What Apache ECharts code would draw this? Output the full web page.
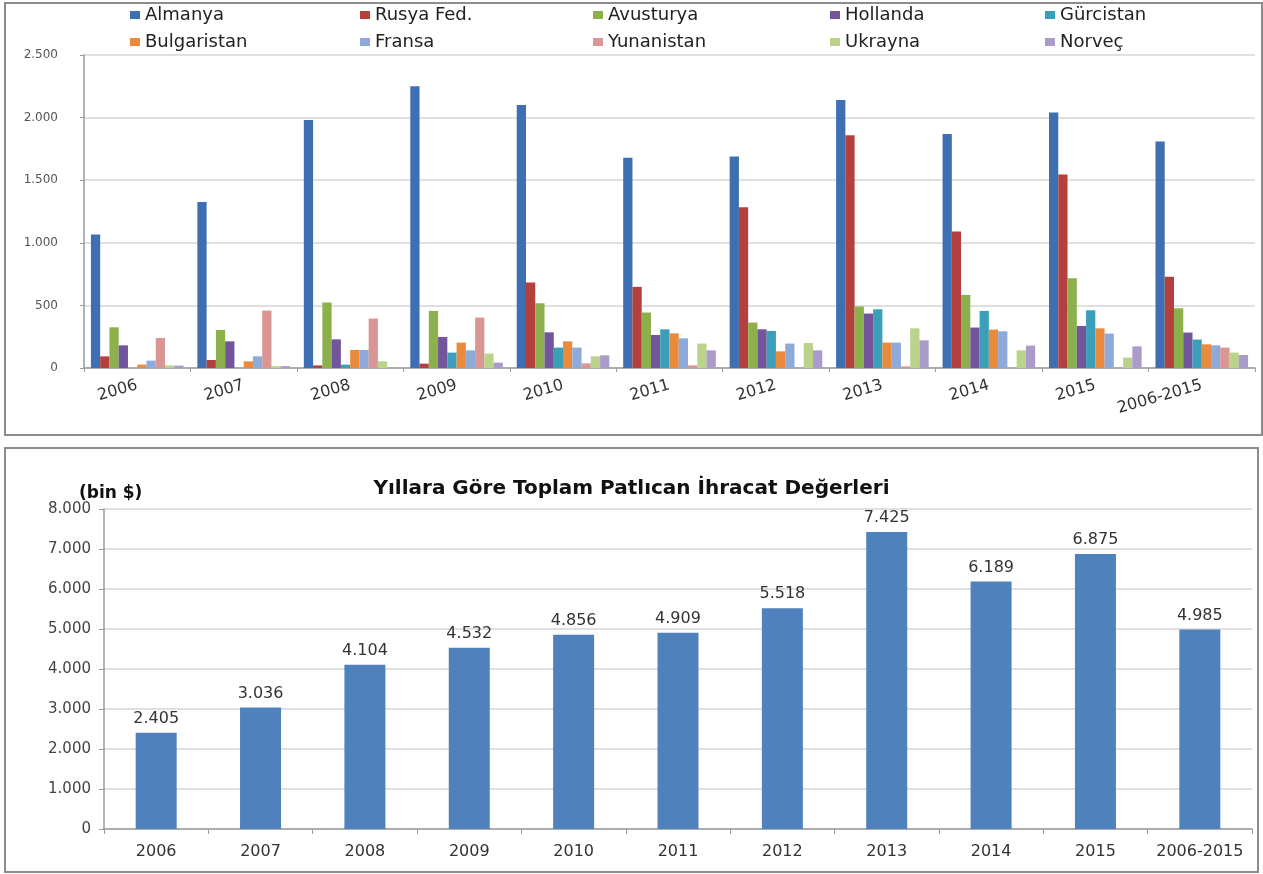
<!DOCTYPE html>
<html>
<head>
<meta charset="utf-8">
<script src="https://cdn.jsdelivr.net/npm/echarts@6/dist/echarts.min.js"></script>
<style>
  body { margin: 0; background: #fff; }
  .panel { position: absolute; border: 2px solid #8c8c8c; box-sizing: border-box; background: #fff; }
  #top { left: 4px; top: 2px; width: 1259px; height: 434px; }
  #bottom { left: 4px; top: 447px; width: 1255px; height: 426px; }
</style>
</head>
<body>
<div id="top" class="panel"></div>
<div id="bottom" class="panel"></div>
<script>
// kategoriler
const years = ['2006', '2007', '2008', '2009', '2010', '2011', '2012', '2013', '2014', '2015', '2006-2015']

// ülkelere göre ihracat (bin $)
const almanya     = [1067, 1325, 1980, 2250, 2100, 1680, 1690, 2140, 1870, 2040, 1810]
const rusya       = [93, 64, 21, 35, 683, 648, 1283, 1860, 1091, 1545, 728]
const avusturya   = [325, 304, 523, 456, 517, 443, 363, 491, 584, 717, 477]
const hollanda    = [181, 213, 229, 248, 285, 264, 309, 435, 323, 336, 283]
const gurcistan   = [0, 0, 27, 123, 163, 309, 296, 469, 456, 461, 227]
const bulgaristan = [27, 53, 144, 203, 213, 277, 133, 203, 307, 317, 189]
const fransa      = [59, 93, 144, 141, 163, 237, 195, 203, 293, 275, 181]
const yunanistan  = [240, 459, 395, 403, 37, 21, 0, 13, 0, 0, 163]
const ukrayna     = [21, 15, 53, 115, 93, 195, 200, 317, 141, 83, 123]
const norvec      = [19, 15, 0, 43, 101, 141, 141, 221, 179, 173, 104]

// toplam ihracat değerleri (bin $)
const totals = [2405, 3036, 4104, 4532, 4856, 4909, 5518, 7425, 6189, 6875, 4985]

const countries = [
  ['Almanya', almanya, '#3f6fb3'],
  ['Rusya Fed.', rusya, '#b3403d'],
  ['Avusturya', avusturya, '#8bb04c'],
  ['Hollanda', hollanda, '#72559d'],
  ['Gürcistan', gurcistan, '#3c9fba'],
  ['Bulgaristan', bulgaristan, '#ea8a3c'],
  ['Fransa', fransa, '#8eaadb'],
  ['Yunanistan', yunanistan, '#d99694'],
  ['Ukrayna', ukrayna, '#b9d38b'],
  ['Norveç', norvec, '#ab9bcb'],
]

// 2500 -> "2.500"
const fmt = (v) => String(v).replace(/\B(?=(\d{3})+(?!\d))/g, '.')

const gridLine = { lineStyle: { color: '#d6d6d6', width: 1.5 } }
const axisLine = { lineStyle: { color: '#9a9a9a', width: 1.5 } }
const font = 'DejaVu Sans, Verdana, sans-serif'

// lejant: 2 satır x 5 sütun
const legendCols = [124, 354, 587, 824, 1039]
const legendRows = [2, 29]
const legends = countries.map((c, i) => ({
  data: [c[0]],
  left: legendCols[i % 5],
  top: legendRows[Math.floor(i / 5)],
  padding: 0,
  itemWidth: 10,
  itemHeight: 8,
  itemGap: 5,
  icon: 'rect',
  textStyle: { fontFamily: font, fontSize: 18, color: '#222' },
}))

var topChart = echarts.init(document.getElementById('top'))
topChart.setOption({
  animation: false,
  textStyle: { fontFamily: font },
  legend: legends,
  grid: { left: 78, right: 6, top: 51, bottom: 66 },
  xAxis: {
    type: 'category',
    data: years,
    axisLine: axisLine,
    axisTick: { show: true, length: 4, lineStyle: { color: '#9a9a9a' } },
    axisLabel: { rotate: 16, fontSize: 16, color: '#333', margin: 17, interval: 0 },
  },
  yAxis: {
    type: 'value',
    min: 0,
    max: 2500,
    interval: 500,
    axisLine: { show: true, lineStyle: { color: '#9a9a9a', width: 1.5 } },
    axisTick: { show: true, length: 4, lineStyle: { color: '#9a9a9a' } },
    splitLine: gridLine,
    axisLabel: { fontSize: 12, color: '#555', margin: 26, formatter: fmt },
  },
  series: countries.map((c) => ({
    name: c[0],
    type: 'bar',
    data: c[1],
    barGap: '0%',
    barCategoryGap: '13%',
    itemStyle: { color: c[2] },
  })),
})

var bottomChart = echarts.init(document.getElementById('bottom'))
bottomChart.setOption({
  animation: false,
  textStyle: { fontFamily: font },
  title: [
    {
      text: 'Yıllara Göre Toplam Patlıcan İhracat Değerleri',
      left: 'center',
      top: 25,
      textStyle: { fontFamily: font, fontSize: 20, fontWeight: 'bold', color: '#111' },
    },
    {
      text: '(bin $)',
      left: 68,
      top: 31,
      textStyle: { fontFamily: font, fontSize: 17, fontWeight: 'bold', color: '#111' },
    },
  ],
  grid: { left: 98, right: 5, top: 60, bottom: 42 },
  xAxis: {
    type: 'category',
    data: years,
    axisLine: axisLine,
    axisTick: { show: true, length: 5, lineStyle: { color: '#9a9a9a' } },
    axisLabel: { fontSize: 16, color: '#333', margin: 15, interval: 0 },
  },
  yAxis: {
    type: 'value',
    min: 0,
    max: 8000,
    interval: 1000,
    axisLine: { show: true, lineStyle: { color: '#9a9a9a', width: 1.5 } },
    axisTick: { show: true, length: 5, lineStyle: { color: '#9a9a9a' } },
    splitLine: gridLine,
    axisLabel: { fontSize: 15, color: '#444', margin: 13, formatter: fmt },
  },
  series: [
    {
      type: 'bar',
      data: totals,
      barWidth: 41,
      itemStyle: { color: '#4f81bd' },
      label: {
        show: true,
        position: 'top',
        distance: 6,
        fontSize: 16,
        color: '#333',
        formatter: (p) => fmt(p.value),
      },
    },
  ],
})

window.addEventListener('resize', function () {
  topChart.resize()
  bottomChart.resize()
})
</script>
</body>
</html>
